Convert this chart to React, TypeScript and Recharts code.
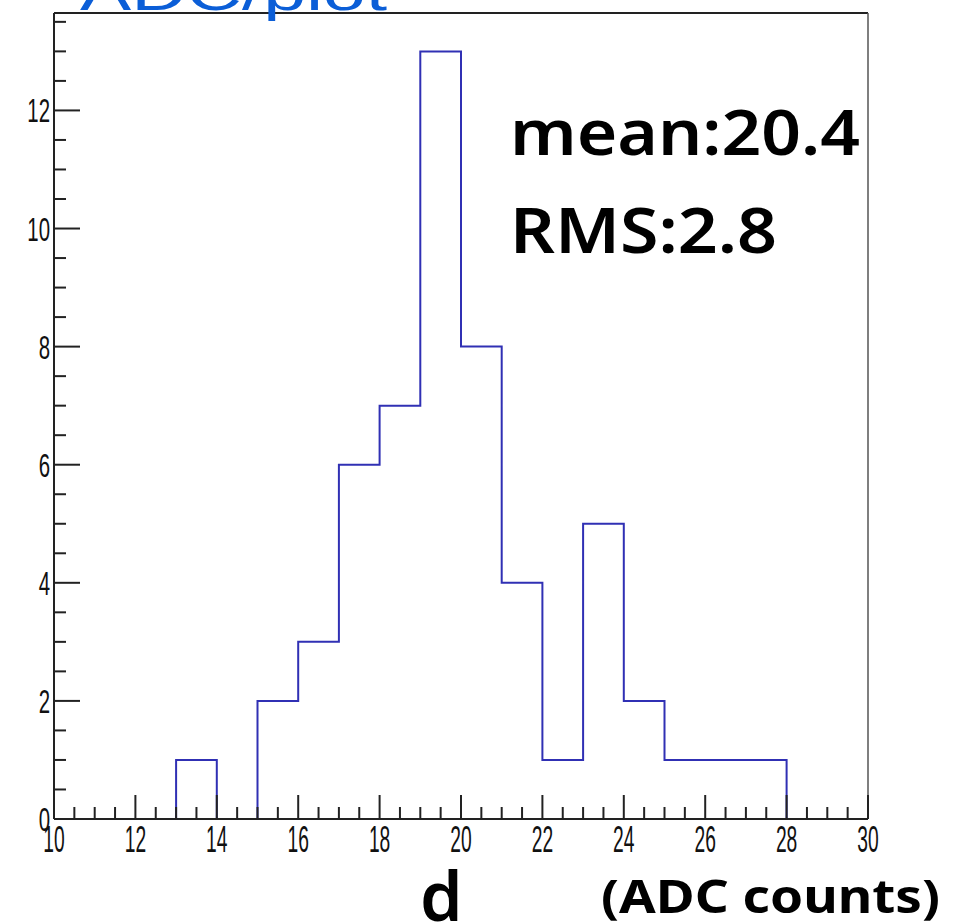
import React from "react";
import { LineChart, Line, XAxis, YAxis } from "recharts";

// bin edges of the histogram (ADC counts)
const binEdges = [10, 11, 12, 13, 14, 15, 16, 17, 18, 19, 20, 21, 22, 23, 24, 25, 26, 27, 28, 29, 30];
// entries per bin, bin i = [binEdges[i], binEdges[i+1])
const counts = [0, 0, 0, 1, 0, 2, 3, 6, 7, 13, 8, 4, 1, 5, 2, 1, 1, 1, 0, 0];

const xMajorTicks = [10, 12, 14, 16, 18, 20, 22, 24, 26, 28, 30];
const yMajorTicks = [0, 2, 4, 6, 8, 10, 12];

const titleText = "ADC/plot";
const statLines = ["mean:20.4", "RMS:2.8"];
const xLabelVar = "d";
const xLabelUnit = "(ADC counts)";

const xTicks: number[] = [];
for (let v = 10; v <= 30; v += 0.5) xTicks.push(v);
const yTicks: number[] = [];
for (let v = 0; v <= 13.5; v += 0.5) yTicks.push(v);

const data = binEdges.map((edge, i) => ({
  x: edge,
  y: i < counts.length ? counts[i] : 0,
}));

const AXIS = "#222";
const TICKFONT = "'Liberation Sans', Arial, sans-serif";

const XTick = (props: any) => {
  const { x, y, payload } = props;
  const v = payload.value;
  const major = xMajorTicks.includes(v);
  return (
    <g>
      <line x1={x} x2={x} y1={y} y2={y - (major ? 24 : 12)} stroke={AXIS} strokeWidth={2} />
      {major && (
        <text
          transform={`translate(${x},${y + 33}) scale(0.52,1)`}
          textAnchor="middle"
          fontSize={37}
          fontFamily={TICKFONT}
          fill="#111"
        >
          {v}
        </text>
      )}
    </g>
  );
};

const YTick = (props: any) => {
  const { x, y, payload } = props;
  const v = payload.value;
  const major = yMajorTicks.includes(v);
  return (
    <g>
      <line x1={x} x2={x + (major ? 26 : 12)} y1={y} y2={y} stroke={AXIS} strokeWidth={2} />
      {major && (
        <text
          transform={`translate(${x - 4},${y + 12}) scale(0.6,1)`}
          textAnchor="end"
          fontSize={34}
          fontFamily={TICKFONT}
          fill="#111"
        >
          {v}
        </text>
      )}
    </g>
  );
};

export default function App() {
  return (
    <div style={{ position: "absolute", left: 0, top: 0, width: 968, height: 923, background: "#fff" }}>
      <LineChart
        width={968}
        height={923}
        data={data}
        margin={{ top: 12, left: 53, right: 99, bottom: 103 }}
      >
        <XAxis
          dataKey="x"
          type="number"
          domain={[10, 30]}
          ticks={xTicks}
          interval={0}
          height={1}
          tickSize={0}
          tickMargin={0}
          tickLine={false}
          tick={<XTick />}
          axisLine={{ stroke: AXIS, strokeWidth: 2 }}
        />
        <XAxis
          xAxisId="top"
          orientation="top"
          dataKey="x"
          type="number"
          domain={[10, 30]}
          height={1}
          tick={false}
          tickLine={false}
          axisLine={{ stroke: AXIS, strokeWidth: 2 }}
        />
        <YAxis
          type="number"
          domain={[0, 13.65]}
          ticks={yTicks}
          interval={0}
          width={1}
          tickSize={0}
          tickMargin={0}
          tickLine={false}
          tick={<YTick />}
          axisLine={{ stroke: AXIS, strokeWidth: 2 }}
        />
        <YAxis
          yAxisId="right"
          orientation="right"
          type="number"
          domain={[0, 13.65]}
          width={1}
          tick={false}
          tickLine={false}
          axisLine={{ stroke: "#555", strokeWidth: 1.5 }}
        />
        <Line
          dataKey="y"
          type="stepAfter"
          stroke="#3030b4"
          strokeWidth={2}
          dot={false}
          activeDot={false}
          isAnimationActive={false}
        />
      </LineChart>
      <svg
        width={968}
        height={923}
        style={{ position: "absolute", left: 0, top: 0, pointerEvents: "none" }}
      >
        <text x={80} y={10} fontSize={52} fontFamily="'Liberation Sans', Arial, sans-serif" fill="#0b5ed7" textLength={307} lengthAdjust="spacingAndGlyphs">
          {titleText}
        </text>
        <text x={510} y={155} fontSize={63} fontWeight={600} fontFamily="'Noto Sans', 'Liberation Sans', sans-serif" fill="#000" textLength={350} lengthAdjust="spacingAndGlyphs">
          {statLines[0]}
        </text>
        <text x={510} y={253} fontSize={63} fontWeight={600} fontFamily="'Noto Sans', 'Liberation Sans', sans-serif" fill="#000" textLength={267} lengthAdjust="spacingAndGlyphs">
          {statLines[1]}
        </text>
        <text x={420} y={921} fontSize={68} fontWeight={600} fontFamily="'Noto Sans', 'Liberation Sans', sans-serif" fill="#000">
          {xLabelVar}
        </text>
        <text x={601} y={913} fontSize={46} fontWeight={700} fontFamily="'Noto Sans', 'Liberation Sans', sans-serif" fill="#000" textLength={339} lengthAdjust="spacingAndGlyphs">
          {xLabelUnit}
        </text>
      </svg>
    </div>
  );
}
